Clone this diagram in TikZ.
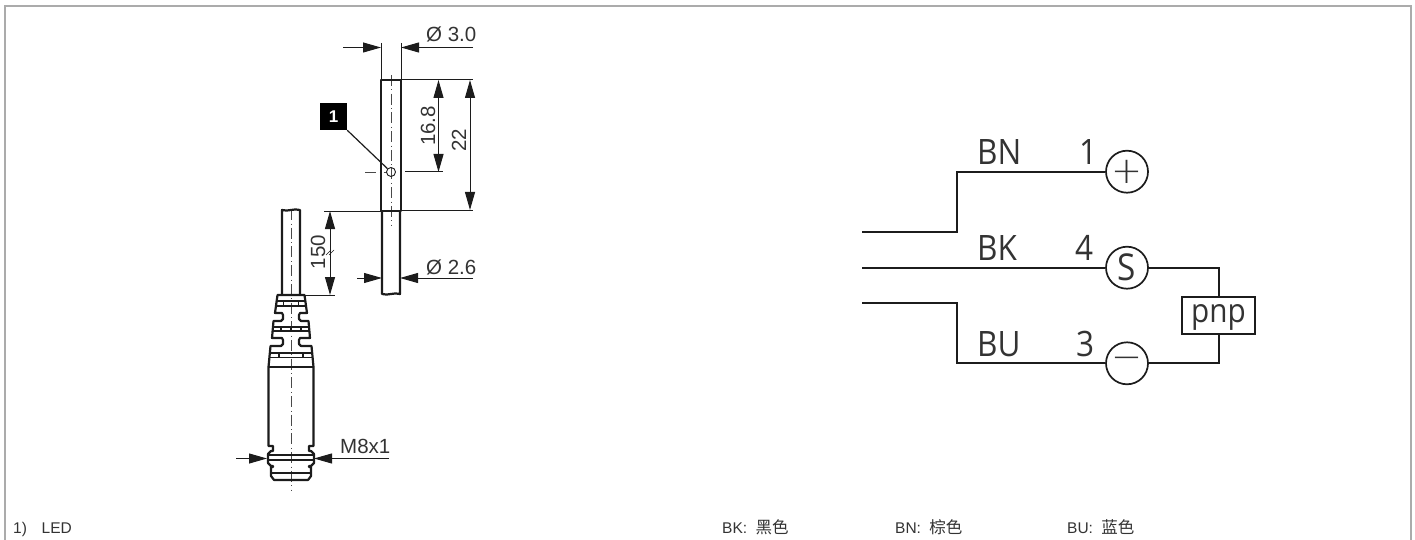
\documentclass[tikz,border=0pt]{standalone}
\usepackage{fontspec}
\usetikzlibrary{arrows.meta}
\setmainfont{Liberation Sans}
\newfontfamily\cjk{Noto Sans CJK SC}
\newfontfamily\schem[FakeStretch=0.9]{Open Sans}
\newfontfamily\thinf{DejaVu Sans ExtraLight}
\definecolor{txt}{HTML}{333333}
\definecolor{ink}{HTML}{1C1C1C}
\definecolor{framec}{HTML}{ABABAB}
\tikzset{
  x=1pt,y=-1pt,
  outline/.style={draw=ink,line width=2.2pt,line join=round},
  inner/.style={draw=ink,line width=1.4pt},
  dim/.style={draw=ink,line width=1pt},
  arr/.style={dim,-{Triangle[length=18pt,width=10pt]}},
  arrs/.style={dim,{Triangle[length=18pt,width=10pt]}-{Triangle[length=18pt,width=10pt]}},
  centerl/.style={draw=ink!80,line width=0.9pt,dash pattern=on 11pt off 3.5pt on 0.7pt off 3.5pt},
  dimtext/.style={inner sep=0pt,text=txt,font=\fontsize{20.5}{20.5}\selectfont},
  foot/.style={inner sep=0pt,anchor=base west,text=txt,font=\fontsize{15.5}{15.5}\selectfont},
  wire/.style={draw=ink,line width=1.7pt},
  pin/.style={circle,draw=ink,line width=1.7pt,fill=white,minimum size=42pt,inner sep=0pt,text=txt},
  schemt/.style={inner sep=0pt,anchor=base west,text=txt,font=\schem\fontsize{35}{35}\selectfont},
}
\begin{document}
\begin{tikzpicture}
\useasboundingbox (0,0) rectangle (1415,540);
% frame
\draw[framec,line width=1.5pt] (5,540) -- (5,6) -- (1411,6) -- (1411,540);
% centre lines
\draw[centerl] (391,75) -- (391,226);
\draw[centerl] (291,209) -- (291,490);
\draw[centerl] (365,172) -- (387,172);
% sensor body and cable
\draw[outline] (381,80) rectangle (401,211);
\draw[outline] (382,211) -- (382,294) .. controls (388,296) and (394,292) .. (400,294) -- (400,211);
% LED
\node[circle,draw=ink,line width=0.9pt,minimum size=9pt,inner sep=0pt] (led) at (391,172) {};
\node[fill=black,text=white,inner sep=0pt,minimum size=27pt,font=\bfseries\fontsize{17}{17}\selectfont] (tag) at (333.5,116.5) {1};
\draw[dim,line width=1.2pt] (tag.south east) -- (led);
% dim 3.0
\draw[dim] (381,43) -- (381,80);
\draw[dim] (401,43) -- (401,80);
\draw[arr] (343,47.5) -- (381,47.5);
\draw[arr] (473,47.5) -- (401,47.5);
\node[dimtext,anchor=base west] (d30) at (426,42) {Ø 3.0};
% dim 16.8, 22
\draw[dim] (401,80) -- (473,80);
\draw[dim] (401,210) -- (473,210);
\draw[dim] (405,172) -- (443,172);
\draw[arrs] (438.5,80) -- (438.5,172);
\draw[arrs] (470,80) -- (470,210);
\node[dimtext,rotate=90] (d168) at (428,126) {16.8};
\node[dimtext,rotate=90] (d22) at (459,140) {22};
% dim 150
\draw[dim] (324,211) -- (381,211);
\draw[dim] (300,295) -- (335,295);
\draw[arrs] (330,211) -- (330,295);
\draw[dim,line width=0.6pt] (326,255) -- (331,250) (329,255) -- (334,250);
\node[dimtext,rotate=90] (d150) at (318,252) {150};
% dim 2.6
\draw[arr] (357,278) -- (382,278);
\draw[arr] (473,278) -- (400,278);
\node[dimtext,anchor=base west] (d26) at (426,274) {Ø 2.6};
% left cable
\draw[outline] (282,295) -- (282,210) .. controls (288,212) and (294,208) .. (300,210) -- (300,295);
% plug: mirrored profile
\foreach \s in {-1,1}{
  \begin{scope}[shift={(291,0)},xscale=\s]
    \draw[outline] (0,295) -- (13.5,295) -- (16,313) -- (9,313) -- (8,315) -- (8,319) -- (10,321) -- (17.5,321) -- (19,338) -- (9,338) -- (8,340) -- (8,344) -- (10,346) -- (20.5,346) -- (22.5,367) -- (22.5,446) -- (18,446) -- (18,451) -- (20,451) -- (23,454) -- (23,463) -- (20,466) -- (18,466) -- (18,467) -- (20,467) -- (20,476) -- (17,480) -- (0,480);
    \draw[inner] (7.5,301) -- (7.5,306);
    \draw[inner] (10,327) -- (10,331);
    \draw[inner] (12,353) -- (12,357.5);
  \end{scope}
}
\draw[inner] (276,301) -- (306,301) (275.5,306) -- (306.5,306);
\draw[inner] (273,327) -- (309,327) (272.5,331) -- (309.5,331);
\draw[inner] (270,353) -- (312,353) (270,357.5) -- (312,357.5);
\draw[inner] (291,327) -- (291,331);
\draw[outline] (268.5,367) -- (313.5,367);
\draw[inner] (268,455) -- (314,455) (268,460) -- (314,460) (270,473) -- (312,473);
% M8x1
\draw[arr] (236,458.5) -- (267,458.5);
\draw[arr] (389,458.5) -- (314,458.5);
\node[dimtext,anchor=base west] (m8) at (340,453) {M8x1};
% schematic
\node[pin] (plus) at (1127,171.7) {};
\node[pin,font=\schem\fontsize{37}{37}\selectfont] (sig) at (1127,267.7) {S};
\node[pin] (minus) at (1127,363.3) {};
\node[inner sep=0pt,text=txt,font=\thinf\fontsize{37}{37}\selectfont] (plusg) at (plus.center) {+};
\node[inner sep=0pt,text=txt,font=\thinf\fontsize{37}{37}\selectfont] (minusg) at (minus.center) {−};
\node[draw=ink,line width=1.7pt,minimum width=73pt,minimum height=37pt,inner sep=0pt,anchor=center] (pnp) at (1218.5,315.5) {};
\node[inner sep=0pt,text=txt,font=\schem\fontsize{33}{33}\selectfont] (pnpt) at (1218.5,317.5) {pnp};
\coordinate (bnl) at (862,232.3);
\coordinate (bkl) at (862,267.7);
\coordinate (bul) at (862,303.3);
\coordinate (bnj) at (957,171.7);
\coordinate (buj) at (957,363.3);
\coordinate (sj) at (1219,267.7);
\coordinate (mj) at (1219,363.3);
\draw[wire] (bnl) -| (bnj) -- (plus);
\draw[wire] (bkl) -- (sig);
\draw[wire] (bul) -| (buj) -- (minus);
\draw[wire] (sig) -- (sj) -- (sj |- pnp.north);
\draw[wire] (mj |- pnp.south) -- (mj) -- (minus);
\node[schemt] (bn) at (977,165) {BN};
\node[schemt] (n1) at (1079,165) {1};
\node[schemt] (bk) at (977,260.7) {BK};
\node[schemt] (n4) at (1075,260.7) {4};
\node[schemt] (bu) at (977,356.7) {BU};
\node[schemt] (n3) at (1076,356.7) {3};
% footer
\node[foot] (f1) at (13,533.5) {1)};
\node[foot] (f2) at (41.5,533.5) {LED};
\newcommand{\cj}[1]{\kern4pt{\cjk\fontsize{16.5}{16.5}\selectfont #1}}
\node[foot] (kbk) at (722,533.5) {BK: \cj{黑色}};
\node[foot] (kbn) at (895,533.5) {BN: \cj{棕色}};
\node[foot] (kbu) at (1067,533.5) {BU: \cj{蓝色}};
\end{tikzpicture}
\end{document}
